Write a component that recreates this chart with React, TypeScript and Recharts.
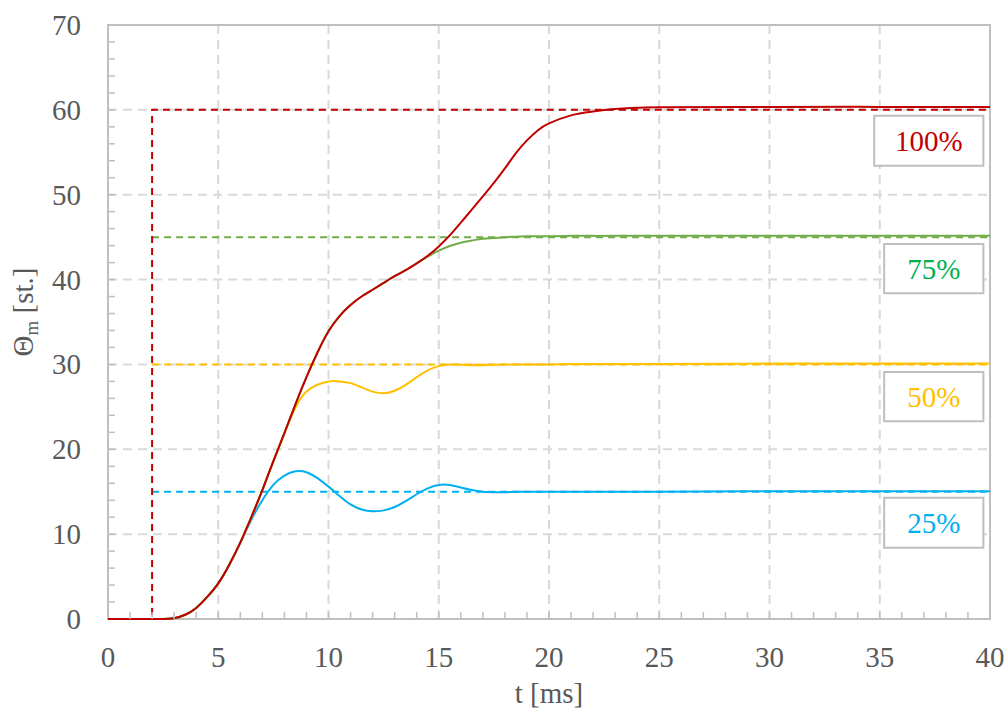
import React from "react";
import {
  LineChart,
  Line,
  CartesianGrid,
  XAxis,
  YAxis,
  ReferenceArea,
  Label,
} from "recharts";

// time base [ms]
const time = [
  0, 0.5, 1, 1.5, 2, 2.5, 3, 3.5, 4, 4.5,
  5, 5.5, 6, 6.5, 7, 7.5, 8, 8.5, 9, 9.5,
  10, 10.5, 11, 11.5, 12, 12.5, 13, 13.5, 14, 14.5,
  15, 15.5, 16, 16.5, 17, 17.5, 18, 18.5, 19, 19.5,
  20, 21, 22, 23, 24, 25, 30, 35, 40,
];

// motor angle responses [st.] for 100 / 75 / 50 / 25 % setpoints
const resp100 = [
  0, 0, 0, 0, 0, 0, 0.1, 0.5, 1.3, 2.6,
  4.2, 6.4, 9.0, 12.0, 15.2, 18.6, 21.9, 25.3, 28.5, 31.4,
  33.9, 35.7, 37.0, 38.0, 38.8, 39.6, 40.4, 41.1, 41.9, 42.8,
  43.9, 45.2, 46.7, 48.25, 49.8, 51.4, 53.1, 54.9, 56.4, 57.6,
  58.4, 59.35, 59.8, 60.1, 60.25, 60.3, 60.35, 60.35, 60.35,
];
const resp75 = [
  0, 0, 0, 0, 0, 0, 0.1, 0.5, 1.3, 2.6,
  4.2, 6.4, 9.0, 12.0, 15.2, 18.6, 21.9, 25.3, 28.5, 31.4,
  33.9, 35.7, 37.0, 38.0, 38.8, 39.6, 40.4, 41.1, 41.9, 42.7,
  43.4, 43.95, 44.35, 44.6, 44.8, 44.9, 45.0, 45.05, 45.1, 45.1,
  45.1, 45.15, 45.15, 45.15, 45.15, 45.15, 45.15, 45.15, 45.15,
];
const resp50 = [
  0, 0, 0, 0, 0, 0, 0.1, 0.5, 1.3, 2.6,
  4.2, 6.4, 9.0, 12.0, 15.2, 18.6, 21.9, 24.9, 26.8, 27.6,
  28.0, 28.0, 27.8, 27.3, 26.8, 26.6, 26.9, 27.6, 28.5, 29.3,
  29.8, 30.0, 29.95, 29.9, 29.9, 29.95, 30.0, 30.0, 30.0, 30.0,
  30.0, 30.05, 30.05, 30.05, 30.05, 30.05, 30.1, 30.1, 30.1,
];
const resp25 = [
  0, 0, 0, 0, 0, 0, 0.1, 0.5, 1.3, 2.6,
  4.2, 6.4, 9.0, 11.7, 14.0, 15.8, 16.9, 17.4, 17.3, 16.6,
  15.6, 14.5, 13.5, 12.9, 12.7, 12.8, 13.2, 13.9, 14.7, 15.4,
  15.8, 15.8, 15.5, 15.2, 15.0, 14.95, 14.95, 15.0, 15.0, 15.0,
  15.0, 15.0, 15.0, 15.0, 15.0, 15.0, 15.05, 15.05, 15.05,
];

// setpoints: 100 % is a step at t = 2 ms, the others start there
const stepTime = [0, 2, 2, 40];
const step100 = [0, 0, 60, 60];
const refTime = [2, 40];
const ref75 = [45, 45];
const ref50 = [30, 30];
const ref25 = [15, 15];

// tick marks every 1 ms / 2 st., labels and grid on the majors
const xTicks = Array.from({ length: 41 }, (_, i) => i);
const yTicks = Array.from({ length: 36 }, (_, i) => i * 2);
const xGrid = [5, 10, 15, 20, 25, 30, 35];
const yGrid = [10, 20, 30, 40, 50, 60];

const levels = ["100%", "75%", "50%", "25%"];

const data = time.map((t, i) => ({
  t,
  r100: resp100[i],
  r75: resp75[i],
  r50: resp50[i],
  r25: resp25[i],
}));
const stepData = stepTime.map((t, i) => ({ t, v: step100[i] }));
const ref75Data = refTime.map((t, i) => ({ t, v: ref75[i] }));
const ref50Data = refTime.map((t, i) => ({ t, v: ref50[i] }));
const ref25Data = refTime.map((t, i) => ({ t, v: ref25[i] }));

const FONT = "'Liberation Serif', 'Times New Roman', serif";
const FS = 29;
const GRAY = "#bfbfbf";
const TEXT = "#595959";

// boxes for the level tags, in axis units
const tagBoxes = [
  { x1: 34.75, x2: 39.7, y1: 53.4, y2: 59.3, color: "#C00000" },
  { x1: 35.2, x2: 39.7, y1: 38.4, y2: 44.2, color: "#00B050" },
  { x1: 35.2, x2: 39.7, y1: 23.3, y2: 29.1, color: "#FFC000" },
  { x1: 35.2, x2: 39.7, y1: 8.4, y2: 14.3, color: "#00B0F0" },
];

// inward tick mark, label only every 5 ms (no mark on the frame corners)
const XTick = (props: any) => {
  const { x, y, payload } = props;
  const v = payload.value;
  return (
    <g>
      {v > 0 && v < 40 && (
        <line x1={x} x2={x} y1={y} y2={y - 7} stroke={GRAY} strokeWidth={1.5} />
      )}
      {v % 5 === 0 && (
        <text x={x} y={y + 48} textAnchor="middle" fill={TEXT} fontSize={FS} fontFamily={FONT}>
          {v}
        </text>
      )}
    </g>
  );
};

// inward tick mark, label only every 10 st.
const YTick = (props: any) => {
  const { x, y, payload } = props;
  const v = payload.value;
  return (
    <g>
      {v > 0 && v < 70 && (
        <line x1={x} x2={x + 7} y1={y} y2={y} stroke={GRAY} strokeWidth={1.5} />
      )}
      {v % 10 === 0 && (
        <text x={x - 27} y={y + 10} textAnchor="end" fill={TEXT} fontSize={FS} fontFamily={FONT}>
          {v}
        </text>
      )}
    </g>
  );
};

const YTitle = (props: any) => {
  const vb = props.viewBox || {};
  const cy = vb.y + vb.height / 2 - 10;
  return (
    <text
      transform={`translate(33, ${cy}) rotate(-90)`}
      textAnchor="middle"
      fontFamily={FONT}
      fontSize={FS}
      fill={TEXT}
    >
      Θ
      <tspan fontSize={19} dy={5}>m</tspan>
      <tspan dy={-5}> [st.]</tspan>
    </text>
  );
};

const XTitle = (props: any) => {
  const vb = props.viewBox || {};
  return (
    <text
      x={vb.x + vb.width / 2}
      y={703}
      textAnchor="middle"
      fontFamily={FONT}
      fontSize={FS}
      fill={TEXT}
    >
      t [ms]
    </text>
  );
};

export default function App() {
  return (
    <div style={{ position: "absolute", left: 0, top: 0, background: "#fff" }}>
      <LineChart
        width={1008}
        height={713}
        data={data}
        margin={{ top: 25, right: 18, left: 0, bottom: 0 }}
        style={{ fontFamily: FONT }}
      >
        <CartesianGrid
          stroke="#d9d9d9"
          strokeWidth={2}
          strokeDasharray="9 6"
          verticalValues={xGrid}
          horizontalValues={yGrid}
        />
        <XAxis
          type="number"
          dataKey="t"
          domain={[0, 40]}
          ticks={xTicks}
          interval={0}
          height={94}
          axisLine={false}
          tickLine={false}
          tickSize={0}
          tickMargin={0}
          tick={<XTick />}
        >
          <Label content={<XTitle />} />
        </XAxis>
        <YAxis
          type="number"
          domain={[0, 70]}
          ticks={yTicks}
          interval={0}
          width={108}
          axisLine={false}
          tickLine={false}
          tickSize={0}
          tickMargin={0}
          tick={<YTick />}
        >
          <Label content={<YTitle />} />
        </YAxis>

        {/* plot frame */}
        <ReferenceArea x1={0} x2={40} y1={0} y2={70} fill="none" stroke={GRAY} strokeWidth={2} />

        {/* setpoints */}
        <Line data={ref25Data} dataKey="v" type="linear" stroke="#00B0F0" strokeWidth={2} strokeDasharray="7 5" dot={false} isAnimationActive={false} />
        <Line data={ref50Data} dataKey="v" type="linear" stroke="#FFC000" strokeWidth={2} strokeDasharray="7 5" dot={false} isAnimationActive={false} />
        <Line data={ref75Data} dataKey="v" type="linear" stroke="#70AD47" strokeWidth={2} strokeDasharray="7 5" dot={false} isAnimationActive={false} />
        <Line data={stepData} dataKey="v" type="linear" stroke="#C00000" strokeWidth={2} strokeDasharray="7 5" dot={false} isAnimationActive={false} />

        {/* responses */}
        <Line dataKey="r25" type="natural" stroke="#00B0F0" strokeWidth={2} dot={false} isAnimationActive={false} />
        <Line dataKey="r50" type="natural" stroke="#FFC000" strokeWidth={2} dot={false} isAnimationActive={false} />
        <Line dataKey="r75" type="natural" stroke="#70AD47" strokeWidth={2} dot={false} isAnimationActive={false} />
        <Line dataKey="r100" type="natural" stroke="#C00000" strokeWidth={2} dot={false} isAnimationActive={false} />

        {/* level tags */}
        {tagBoxes.map((b, i) => (
          <ReferenceArea
            key={levels[i]}
            x1={b.x1}
            x2={b.x2}
            y1={b.y1}
            y2={b.y2}
            fill="#fff"
            fillOpacity={1}
            stroke={GRAY}
            strokeWidth={2}
            label={{ value: levels[i], position: "center", fill: b.color, fontSize: FS, fontFamily: FONT }}
          />
        ))}
      </LineChart>
    </div>
  );
}
